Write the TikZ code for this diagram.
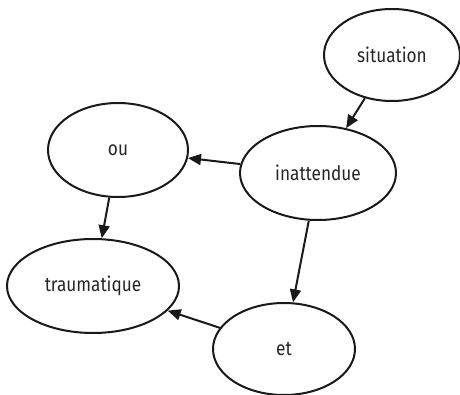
\documentclass[tikz,border=0pt]{standalone}
\usepackage{fontspec}
\setmainfont[FakeStretch=0.86]{Fira Sans}
\usetikzlibrary{shapes.geometric,arrows.meta}
\begin{document}
\begin{tikzpicture}[x=1pt,y=-1pt,
  word/.style={ellipse,draw=black!90,line width=2pt,inner sep=0pt,font=\fontsize{20}{24}\selectfont,text=black!85},
  link/.style={line width=2pt,draw=black!90,-{Triangle[length=13pt,width=11pt]}}]
\useasboundingbox (0,0) rectangle (460,395);
\node[word,minimum width=136pt,minimum height=92pt] (sit) at (392,55) {situation};
\node[word,minimum width=140pt,minimum height=94pt] (ou) at (118,150) {ou};
\node[word,minimum width=156pt,minimum height=94pt] (ina) at (318,173) {inattendue};
\node[word,minimum width=172pt,minimum height=94pt] (tra) at (93,286) {traumatique};
\node[word,minimum width=142pt,minimum height=92pt] (et) at (284,349) {et};
\draw[link] (sit) -- (ina);
\draw[link] (ina) -- (ou);
\draw[link] (ou) -- (tra);
\draw[link] (ina) -- (et);
\draw[link] (et) -- (tra);
\end{tikzpicture}
\end{document}
